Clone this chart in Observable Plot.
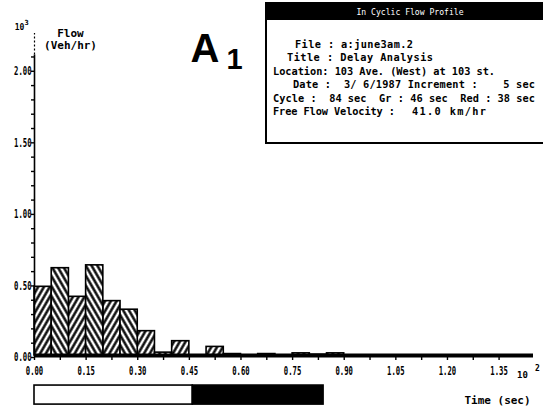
<!DOCTYPE html>
<html><head><meta charset="utf-8">
<script src="https://cdn.jsdelivr.net/npm/d3@7"></script>
<script src="https://cdn.jsdelivr.net/npm/@observablehq/plot@0.6"></script>
<style>
html,body{margin:0;padding:0;background:#fff;}
#chart{width:543px;height:416px;overflow:hidden;}
</style></head><body><div id="chart"></div>
<script>
// ---- data (Time in 10^2 sec, Flow in 10^3 veh/hr) ----
const binStart = [0.00,0.05,0.10,0.15,0.20,0.25,0.30,0.35,0.40,0.45,0.50,0.55,0.60,0.65,0.70,0.75,0.80,0.85];
const flow     = [0.48,0.61,0.41,0.63,0.38,0.32,0.17,0.02,0.10,0.00,0.06,0.01,0.00,0.01,0.00,0.015,0.006,0.015];
const binWidth = 0.05;
const xTickValues = [0,0.075,0.15,0.225,0.30,0.375,0.45,0.525,0.60,0.675,0.75,0.825,0.90,0.975,1.05,1.125,1.20,1.275,1.35];
const xLabelValues = [0,0.15,0.30,0.45,0.60,0.75,0.90,1.05,1.20,1.35];
const xTickLabels = ["0.00","0.15","0.30","0.45","0.60","0.75","0.90","1.05","1.20","1.35"];
const yTickValues = [0,0.1,0.2,0.3,0.4,0.5,0.6,0.7,0.8,0.9,1.0,1.1,1.2,1.3,1.4,1.5,1.6,1.7,1.8,1.9,2.0,2.1];
const yLabelValues = [0,0.5,1.0,1.5,2.0];
const yTickLabels = ["0.00","0.50","1.00","1.50","2.00"];
const phaseNames = ["Green","Red"];
const phaseStart = [0,0.46];
const phaseEnd = [0.46,0.84];
const phaseFill = ["white","black"];
const infoTitle = "In Cyclic Flow Profile";
const infoTexts = [
  "File : a:june3am.2",
  "Title : Delay Analysis",
  "Location: 103 Ave. (West) at 103 st.",
  "Date :  3/ 6/1987 Increment :    5 sec",
  "Cycle :  84 sec  Gr : 46 sec  Red : 38 sec",
  "Free Flow Velocity :",
  "41.0 km/hr"
];

const bars = flow.map((v,i)=>({x1:binStart[i], x2:binStart[i]+binWidth, y:v, k:i%2}));
const phases = phaseNames.map((n,i)=>({name:n, x1:phaseStart[i], x2:phaseEnd[i], fill:phaseFill[i]}));
const lab = (vals, labels) => d => { const j = vals.findIndex(v=>Math.abs(v-d)<1e-9); return j>=0 ? labels[j] : ""; };
const mono = "'DejaVu Sans Mono', monospace";
const sans = "'Liberation Sans', Arial, sans-serif";

const chart = Plot.plot({
  width:543, height:416,
  marginLeft:34, marginRight:10, marginTop:33, marginBottom:61,
  style:{fontFamily:mono, background:"white", color:"black", overflow:"visible"},
  x:{domain:[0,1.45]},
  y:{domain:[0,2.25]},
  marks:[
    Plot.rectY(bars.filter(d=>d.k===0), {x1:"x1", x2:"x2", y:"y", fill:"url(#hatchA)", stroke:"black", strokeWidth:1.6}),
    Plot.rectY(bars.filter(d=>d.k===1), {x1:"x1", x2:"x2", y:"y", fill:"url(#hatchB)", stroke:"black", strokeWidth:1.6}),
    Plot.ruleY([0], {stroke:"black", strokeWidth:4}),
    Plot.ruleX([0], {y1:0, y2:2.1, stroke:"black", strokeWidth:1.6}),
    Plot.ruleX([0], {y1:2.1, y2:2.25, stroke:"black", strokeWidth:1.2, strokeDasharray:"2,2"}),
    Plot.axisX({ticks:xTickValues, tickSize:5, tickPadding:6, tickFormat:lab(xLabelValues,xTickLabels),
      fontFamily:mono, fontSize:11, fontWeight:"bold", strokeWidth:1.4, label:null}),
    Plot.axisY({ticks:yTickValues, tickSize:3, tickPadding:0, tickFormat:lab(yLabelValues,yTickLabels),
      fontFamily:mono, fontSize:11, fontWeight:"bold", dy:2, strokeWidth:1.4, label:null}),
    // signal phase bar under the time axis
    Plot.rect(phases, {x1:"x1", x2:"x2", y1:-0.21, y2:-0.343, fill:"fill", stroke:"black", strokeWidth:1.6}),
    // annotations
    Plot.text(["Flow"], {frameAnchor:"top-left", dx:36, dy:0, text:d=>d, fontFamily:mono, fontSize:11, fontWeight:"bold", textAnchor:"middle", lineAnchor:"middle", ariaLabel:"lbl"}),
    Plot.text(["(Veh/hr)"], {frameAnchor:"top-left", dx:36, dy:12, text:d=>d, fontFamily:mono, fontSize:11, fontWeight:"bold", textAnchor:"middle", lineAnchor:"middle", ariaLabel:"lbl"}),
    Plot.text(["10"], {frameAnchor:"top-left", dx:-15, dy:-6, text:d=>d, fontFamily:mono, fontSize:8, fontWeight:"bold", textAnchor:"middle", lineAnchor:"middle"}),
    Plot.text(["3"], {frameAnchor:"top-left", dx:-8, dy:-11, text:d=>d, fontFamily:mono, fontSize:7, fontWeight:"bold", textAnchor:"middle", lineAnchor:"middle"}),
    Plot.text(["10"], {frameAnchor:"bottom-right", dx:-11, dy:20, text:d=>d, fontFamily:mono, fontSize:9, fontWeight:"bold", textAnchor:"middle", lineAnchor:"middle"}),
    Plot.text(["2"], {frameAnchor:"bottom-right", dx:4, dy:13, text:d=>d, fontFamily:mono, fontSize:8, fontWeight:"bold", textAnchor:"middle", lineAnchor:"middle"}),
    Plot.text(["Time (sec)"], {frameAnchor:"bottom-right", dx:-36, dy:45, text:d=>d, fontFamily:mono, fontSize:11, fontWeight:"bold", textAnchor:"middle", lineAnchor:"middle", ariaLabel:"time"}),
    Plot.text(["A"], {frameAnchor:"top-left", dx:156, dy:28, text:d=>d, fontFamily:sans, fontSize:40, fontWeight:"bold", textAnchor:"start", lineAnchor:"bottom", ariaLabel:"bigA"}),
    Plot.text(["1"], {frameAnchor:"top-left", dx:192, dy:35, text:d=>d, fontFamily:sans, fontSize:29, fontWeight:"bold", textAnchor:"start", lineAnchor:"bottom"})
  ]
});
document.getElementById("chart").appendChild(chart);

// hatch patterns (herringbone look from alternating directions)
const svg = d3.select(chart);
const defs = svg.insert("defs", ":first-child");
for (const [id, ang] of [["hatchA",30],["hatchB",-30]]) {
  const p = defs.append("pattern").attr("id",id).attr("patternUnits","userSpaceOnUse")
    .attr("width",5).attr("height",10).attr("patternTransform",`rotate(${ang})`);
  p.append("rect").attr("width",5).attr("height",10).attr("fill","white");
  p.append("line").attr("x1",1.5).attr("y1",0).attr("x2",1.5).attr("y2",10).attr("stroke","black").attr("stroke-width",2.4);
}

// squeeze text horizontally / stretch vertically to mimic the narrow bitmap font
function squeeze(sel, sx, sy) {
  sel.each(function() {
    const t = this.getAttribute("transform");
    if (t) this.setAttribute("transform", t + ` scale(${sx},${sy})`);
    else {
      const x = +this.getAttribute("x")||0, y = +this.getAttribute("y")||0;
      this.removeAttribute("x"); this.removeAttribute("y");
      this.setAttribute("transform", `translate(${x},${y}) scale(${sx},${sy})`);
    }
  });
}
squeeze(svg.selectAll('g[aria-label="x-axis tick label"] text'), 0.66, 1.1);
squeeze(svg.selectAll('g[aria-label="y-axis tick label"] text'), 0.66, 1.05);
squeeze(svg.selectAll('g[aria-label="lbl"] text'), 1.02, 1.15);
squeeze(svg.selectAll('g[aria-label="time"] text'), 0.98, 1.25);
squeeze(svg.selectAll('g[aria-label="bigA"] text'), 1.2, 1);

// information box (layout: left edge, right edge, baseline of each text run)
const infoLayout = [[295,413,47.5],[287,433,61],[273,495,74.5],[293,535,88],[273,535,101.5],[273,395,115],[412,486,115]];
const box = svg.append("g").attr("aria-label","info box").attr("text-anchor","start");
box.append("rect").attr("x",266).attr("y",3).attr("width",290).attr("height",140)
  .attr("fill","white").attr("stroke","black").attr("stroke-width",2);
box.append("rect").attr("x",266).attr("y",3).attr("width",290).attr("height",17).attr("fill","black");
box.append("text").attr("transform","translate(410,15) scale(0.9,1)").attr("text-anchor","middle")
  .attr("fill","white").attr("font-family",mono).attr("font-size",9).text(infoTitle);
infoTexts.forEach((s,i)=>{
  const [x0,x1,yb] = infoLayout[i];
  box.append("text").attr("transform",`translate(${x0},${yb}) scale(1,1.1)`)
    .attr("text-anchor","start")
    .attr("font-family",mono).attr("font-size",10.3).attr("font-weight","bold")
    .attr("textLength", x1-x0).attr("lengthAdjust","spacing")
    .attr("xml:space","preserve").style("white-space","pre").attr("fill","black").text(s);
});
</script></body></html>
